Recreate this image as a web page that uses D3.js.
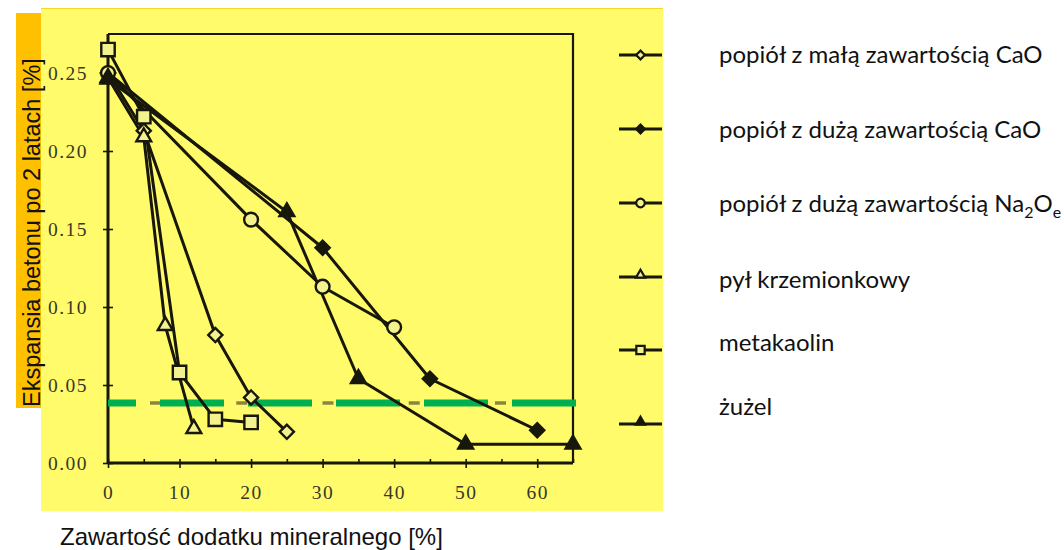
<!DOCTYPE html>
<html>
<head>
<meta charset="utf-8">
<script src="https://cdn.jsdelivr.net/npm/d3@7"></script>
<style>
  html, body { margin: 0; padding: 0; background: #ffffff; }
  svg { display: block; }
</style>
</head>
<body>
<svg id="chart" width="1064" height="550"></svg>
<script>
// ---------- data ----------
const seriesNames = [
  "popiół z małą zawartością CaO",
  "popiół z dużą zawartością CaO",
  "popiół z dużą zawartością Na2Oe",
  "pył krzemionkowy",
  "metakaolin",
  "żużel"
];
const lowCaOAsh   = [[0, 0.250], [5, 0.213], [15, 0.082], [20, 0.042], [25, 0.020]];
const highCaOAsh  = [[0, 0.250], [30, 0.138], [45, 0.054], [60, 0.021]];
const highNaAsh   = [[0, 0.250], [20, 0.156], [30, 0.113], [40, 0.087]];
const silicaFume  = [[0, 0.247], [5, 0.209], [8, 0.088], [12, 0.022]];
const metakaolin  = [[0, 0.265], [5, 0.222], [10, 0.058], [15, 0.028], [20, 0.026]];
const slag        = [[0, 0.246], [25, 0.161], [35, 0.054], [50, 0.012], [65, 0.012]];
const limitValue  = 0.0385;
const xTicks = [0, 10, 20, 30, 40, 50, 60];
const xMinorTicks = [0, 5, 10, 15, 20, 25, 30, 35, 40, 45, 50, 55, 60, 65];
const yTicks = [0, 0.05, 0.10, 0.15, 0.20, 0.25];
const xTitle = "Zawartość dodatku mineralnego [%]";
const yTitle = "Ekspansia betonu po 2 latach [%]";

// ---------- setup ----------
const svg = d3.select("#chart");
const INK = "#17170b";
const OPEN_FILL = "#f3f28c";
const YELLOW = "#fffb6a";

// backgrounds
svg.append("rect").attr("x", 16).attr("y", 13).attr("width", 25).attr("height", 395).attr("fill", "#ffc000");
svg.append("rect").attr("x", 41).attr("y", 8).attr("width", 622).attr("height", 503).attr("fill", YELLOW);
svg.append("line").attr("x1", 41).attr("x2", 663).attr("y1", 8.5).attr("y2", 8.5).attr("stroke", "#f7d52a").attr("stroke-width", 1);

const x = d3.scaleLinear().domain([0, 65]).range([108, 573]);
const y = d3.scaleLinear().domain([0, 0.275]).range([463, 34]);

// frame (top and right)
svg.append("path")
  .attr("d", `M${x(0)},${y(0.275)}H${x(65)}V${y(0)}`)
  .attr("fill", "none").attr("stroke", INK).attr("stroke-width", 2.2);

// axes
const tickFont = "'Liberation Serif','DejaVu Serif',serif";
const yAxis = svg.append("g").attr("transform", `translate(${x(0)},0)`)
  .call(d3.axisLeft(y).tickValues(yTicks).tickFormat(d3.format(".2f")).tickSize(5).tickPadding(15));
const yAxisIn = svg.append("g").attr("transform", `translate(${x(0)},0)`)
  .call(d3.axisRight(y).tickValues(yTicks).tickFormat("").tickSize(5).tickSizeOuter(0));
const xAxis = svg.append("g").attr("transform", `translate(0,${y(0)})`)
  .call(d3.axisBottom(x).tickValues(xTicks).tickFormat(d3.format("d")).tickSize(5).tickPadding(17));
const xAxisIn = svg.append("g").attr("transform", `translate(0,${y(0)})`)
  .call(d3.axisTop(x).tickValues(xMinorTicks).tickFormat("").tickSize(4).tickSizeOuter(0));

[yAxis, xAxis, yAxisIn, xAxisIn].forEach(g => {
  g.select(".domain").attr("stroke", INK).attr("stroke-width", 3);
  g.selectAll(".tick line").attr("stroke", INK).attr("stroke-width", 1.6);
  g.selectAll(".tick text")
    .attr("fill", "#37372a")
    .style("font-family", tickFont)
    .style("font-size", "19.5px")
    .style("letter-spacing", "1.5px");
});
yAxisIn.select(".domain").remove();
xAxisIn.select(".domain").remove();
xAxis.select(".domain").attr("d", `M${x(0)},0H${x(65)}`);
yAxis.select(".domain").attr("d", `M0,${y(0)}V${y(0.275)}`);

// limit line: olive dashed line under green dashes
const limitG = svg.append("g");
limitG.append("line")
  .attr("x1", x(0)).attr("x2", x(65)).attr("y1", y(limitValue)).attr("y2", y(limitValue))
  .attr("stroke", "#8a8640").attr("stroke-width", 3.5)
  .attr("stroke-dasharray", "11 75.25").attr("stroke-dashoffset", 44.25);
limitG.append("line")
  .attr("x1", x(0)).attr("x2", x(65) + 3).attr("y1", y(limitValue)).attr("y2", y(limitValue))
  .attr("stroke", "#00b050").attr("stroke-width", 7)
  .attr("stroke-dasharray", "64 24").attr("stroke-dashoffset", 36);

// series
const line = d3.line().x(d => x(d[0])).y(d => y(d[1]));
const series = [
  { data: lowCaOAsh,  marker: "diamond",  filled: false },
  { data: highCaOAsh, marker: "diamond",  filled: true },
  { data: highNaAsh,  marker: "circle",   filled: false },
  { data: silicaFume, marker: "triangle", filled: false },
  { data: metakaolin, marker: "square",   filled: false },
  { data: slag,       marker: "triangle", filled: true }
];

function markerPath(type, scale) {
  if (type === "diamond") return d3.symbol(d3.symbolSquare, 100 * scale * scale)();
  if (type === "circle") return d3.symbol(d3.symbolCircle, 150 * scale * scale)();
  if (type === "triangle") return d3.symbol(d3.symbolTriangle, 95 * scale * scale)();
  return d3.symbol(d3.symbolSquare, 180 * scale * scale)();
}

series.forEach(s => {
  svg.append("path").datum(s.data)
    .attr("d", line).attr("fill", "none")
    .attr("stroke", INK).attr("stroke-width", 3).attr("stroke-linejoin", "round");
});
series.forEach(s => {
  svg.append("g").selectAll("path").data(s.data).join("path")
    .attr("d", markerPath(s.marker, 1))
    .attr("transform", d => `translate(${x(d[0])},${y(d[1])})` + (s.marker === "diamond" ? " rotate(45)" : ""))
    .attr("fill", s.filled ? INK : OPEN_FILL)
    .attr("stroke", INK).attr("stroke-width", 2.4);
});

// legend
const legendSymbolY = [55, 129, 203, 277, 350, 424];
const legendTextY = [63, 138, 212, 288, 351, 415];
const textFont = "Lato, 'Noto Sans', sans-serif";
series.forEach((s, i) => {
  const g = svg.append("g").attr("transform", `translate(640.5,${legendSymbolY[i]})`);
  g.append("line").attr("x1", -21.5).attr("x2", 21.5).attr("stroke", INK).attr("stroke-width", 3);
  g.append("path").attr("d", markerPath(s.marker, 0.62))
    .attr("transform", s.marker === "diamond" ? "rotate(45)" : (s.marker === "triangle" ? "translate(0,-2)" : null))
    .attr("fill", s.filled ? INK : OPEN_FILL)
    .attr("stroke", INK).attr("stroke-width", 2.2);

  const t = svg.append("text").attr("x", 719).attr("y", legendTextY[i])
    .attr("fill", "#111").style("font-family", textFont).style("font-size", "24px");
  const name = seriesNames[i];
  if (name.endsWith("Na2Oe")) {
    t.append("tspan").text(name.slice(0, -5) + "Na");
    t.append("tspan").text("2").attr("dy", 6).style("font-size", "16px");
    t.append("tspan").text("O").attr("dy", -6);
    t.append("tspan").text("e").attr("dy", 6).style("font-size", "16px");
  } else {
    t.text(name);
  }
});

// axis titles
svg.append("text").attr("x", 60).attr("y", 545)
  .attr("fill", "#111").style("font-family", "'Liberation Sans', Arial, sans-serif").style("font-size", "24px")
  .text(xTitle);
svg.append("text").attr("transform", "translate(40,407) rotate(-90)")
  .attr("fill", "#111").style("font-family", "'Liberation Sans', Arial, sans-serif").style("font-size", "23.5px")
  .text(yTitle);
</script>
</body>
</html>
